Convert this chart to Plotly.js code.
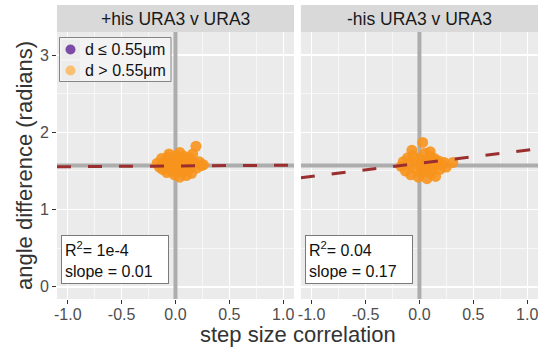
<!DOCTYPE html>
<html>
<head>
<meta charset="utf-8">
<script src="https://cdn.plot.ly/plotly-3.0.1.min.js"></script>
<style>html,body{margin:0;padding:0;background:#fff;}#chart{width:542px;height:353px;}</style>
</head>
<body>
<div id="chart"></div>
<script>
// ---- data ----
const facetTitles = ["+his URA3 v URA3", "-his URA3 v URA3"];
const xTickVals = [-1, -0.5, 0, 0.5, 1];
const xTickText = ["-1.0", "-0.5", "0.0", "0.5", "1.0"];
const yTickVals = [0, 1, 2, 3];
const yTickText = ["0", "1", "2", "3"];
const legendLabels = ["d \u2264 0.55\u03bcm", "d > 0.55\u03bcm"];
const legendColors = ["#7b4ba6", "#f9bf73"];

// panel 1 (+his) step size correlation / angle difference
const x1 = [-0.17,-0.15,-0.13,-0.12,-0.10,-0.08,-0.07,-0.05,-0.04,-0.02,-0.01,0.00,0.01,0.02,0.03,0.04,0.05,0.06,0.07,0.08,0.09,0.10,0.11,0.12,0.13,0.14,0.15,0.16,0.17,0.19,0.20,0.22,0.24,0.26,-0.06,0.04,-0.11];
const y1 = [1.60,1.55,1.66,1.52,1.62,1.48,1.68,1.57,1.50,1.64,1.45,1.58,1.70,1.53,1.61,1.42,1.66,1.55,1.49,1.69,1.59,1.44,1.63,1.52,1.67,1.56,1.47,1.72,1.60,1.82,1.54,1.62,1.57,1.58,1.72,1.74,1.58];
// panel 2 (-his)
const x2 = [-0.17,-0.15,-0.13,-0.11,-0.09,-0.08,-0.06,-0.04,-0.03,-0.01,0.00,0.01,0.02,0.03,0.04,0.05,0.06,0.07,0.08,0.09,0.10,0.11,0.12,0.13,0.14,0.15,0.16,0.18,0.19,0.21,0.23,0.25,0.31,-0.07,0.10];
const y2 = [1.56,1.62,1.50,1.67,1.58,1.45,1.70,1.53,1.62,1.42,1.66,1.56,1.48,1.87,1.60,1.73,1.51,1.40,1.64,1.57,1.69,1.47,1.60,1.54,1.66,1.43,1.59,1.63,1.52,1.58,1.61,1.55,1.61,1.77,1.75];

// fitted regressions
const fitIntercept = [1.565, 1.600];
const fitSlope = [0.01, 0.17];
const r2Text = ["1e-4", "0.04"];
const slopeText = ["0.01", "0.17"];
const refX = 0;
const refY = Math.PI / 2;

// ---- build ----
const W = 542, H = 353;
const M = {l: 57, r: 4, t: 32, b: 54};
const PW = W - M.l - M.r, PH = H - M.t - M.b;
const px2x = px => (px - M.l) / PW;
const px2y = py => 1 - (py - M.t) / PH;

const XR = [-1.1, 1.1];
const YR = [-0.157, 3.299];
const orange = "rgba(247,148,29,0.9)";
const fitColor = "#9b2f2f";
const refColor = "#adadad";

function fitLine(i) {
  return XR.map(x => fitIntercept[i] + fitSlope[i] * x);
}

const traces = [];
[["x", "y"], ["x2", "y2"]].forEach(([xa, ya]) => {
  traces.push({x: [refX, refX], y: YR, xaxis: xa, yaxis: ya, type: "scatter", mode: "lines",
    line: {color: refColor, width: 4}, showlegend: false, hoverinfo: "skip"});
  traces.push({x: XR, y: [refY, refY], xaxis: xa, yaxis: ya, type: "scatter", mode: "lines",
    line: {color: refColor, width: 4}, showlegend: false, hoverinfo: "skip"});
});
traces.push(
  {x: x1, y: y1, xaxis: "x", yaxis: "y", type: "scatter", mode: "markers",
   marker: {color: orange, size: 11}, showlegend: false, hoverinfo: "skip"},
  {x: x2, y: y2, xaxis: "x2", yaxis: "y2", type: "scatter", mode: "markers",
   marker: {color: orange, size: 11}, showlegend: false, hoverinfo: "skip"},
  {x: XR, y: fitLine(0), xaxis: "x", yaxis: "y", type: "scatter", mode: "lines",
   line: {color: fitColor, width: 3, dash: "14px,17px"}, showlegend: false},
  {x: XR, y: fitLine(1), xaxis: "x2", yaxis: "y2", type: "scatter", mode: "lines",
   line: {color: fitColor, width: 3, dash: "14px,17px"}, showlegend: false}
);

const font = "Liberation Sans, Arial, sans-serif";
function xax(dom, anchor) {
  return {domain: dom, anchor: anchor, range: XR, tickvals: xTickVals, ticktext: xTickText,
    showgrid: true, gridcolor: "#ffffff", gridwidth: 1.4, zeroline: false,
    ticks: "outside", ticklen: 4, tickwidth: 1, tickcolor: "#333333", ticklabelstandoff: -3,
    tickfont: {family: font, size: 16, color: "#4d4d4d"},
    minor: {dtick: 0.25, tick0: 0, showgrid: true, gridcolor: "#ffffff", gridwidth: 0.6},
    showline: false, fixedrange: true};
}
function yax(dom, anchor, labels) {
  return {domain: dom, anchor: anchor, range: YR, tickvals: yTickVals, ticktext: yTickText,
    showgrid: true, gridcolor: "#ffffff", gridwidth: 1.4, zeroline: false,
    ticks: labels ? "outside" : "", ticklen: 4, tickwidth: 1, tickcolor: "#333333",
    showticklabels: labels,
    tickfont: {family: font, size: 16, color: "#4d4d4d"},
    minor: {dtick: 0.5, tick0: 0, showgrid: true, gridcolor: "#ffffff", gridwidth: 0.6},
    showline: false, fixedrange: true};
}

const d1 = [0, 0.4927];
const d2 = [0.507, 1];

const shapes = [];
[d1, d2].forEach(d => {
  shapes.push({type: "rect", xref: "paper", yref: "paper", x0: d[0], x1: d[1], y0: 1.0, y1: 1.101,
    fillcolor: "#d9d9d9", line: {width: 0}, layer: "below"});
});

const annotations = [];
// manual legend (inside panel 1, top-left)
shapes.push({type: "rect", xref: "paper", yref: "paper", x0: px2x(59.5), x1: px2x(171), y0: px2y(81.5), y1: px2y(37.5),
  fillcolor: "#f3f3f3", line: {color: "#858585", width: 1}, layer: "above"});
legendLabels.forEach((lab, i) => {
  const cy = 49.5 + i * 21;
  shapes.push({type: "rect", xref: "paper", yref: "paper", x0: px2x(61.5), x1: px2x(80),
    y0: px2y(cy + 9.5), y1: px2y(cy - 9.5), fillcolor: "#ececec", line: {width: 0}, layer: "above"});
  shapes.push({type: "circle", xref: "paper", yref: "paper", x0: px2x(65.5), x1: px2x(75.5),
    y0: px2y(cy + 5), y1: px2y(cy - 5), fillcolor: legendColors[i], line: {width: 0}, layer: "above"});
  annotations.push({xref: "paper", yref: "paper", x: px2x(82.5), y: px2y(cy), xanchor: "left", yanchor: "middle",
    showarrow: false, text: lab, font: {family: font, size: 16, color: "#111111"}});
});

[d1, d2].forEach((d, i) => {
  annotations.push({xref: "paper", yref: "paper", x: (d[0] + d[1]) / 2, y: 1.05, text: facetTitles[i],
    showarrow: false, xanchor: "center", yanchor: "middle",
    font: {family: font, size: 17.5, color: "#1a1a1a"}});
  annotations.push({xref: "paper", yref: "paper",
    x: d[0] + 0.018 * (d[1] - d[0]), y: 0.058, xanchor: "left", yanchor: "bottom", align: "left", showarrow: false,
    text: "R<sup>2</sup>= " + r2Text[i] + "<br>slope = " + slopeText[i],
    font: {family: font, size: 16, color: "#111111"},
    bgcolor: "#ffffff", bordercolor: "#7a7a7a", borderwidth: 1, borderpad: 3, width: 100});
});
annotations.push({xref: "paper", yref: "paper", x: 0.5, y: 0, yshift: -21, text: "step size correlation",
  showarrow: false, xanchor: "center", yanchor: "top", font: {family: font, size: 22, color: "#333333"}});
annotations.push({xref: "paper", yref: "paper", x: 0, xshift: -18, y: 0.5, text: "angle difference (radians)",
  textangle: -90, showarrow: false, xanchor: "right", yanchor: "middle", font: {family: font, size: 22, color: "#333333"}});

const layout = {
  width: W, height: H,
  margin: M,
  paper_bgcolor: "#ffffff", plot_bgcolor: "#ebebeb",
  font: {family: font},
  xaxis: xax(d1, "y"), yaxis: yax([0, 1], "x", true),
  xaxis2: xax(d2, "y2"), yaxis2: yax([0, 1], "x2", false),
  showlegend: false,
  shapes: shapes,
  annotations: annotations
};

Plotly.newPlot("chart", traces, layout, {staticPlot: true, displayModeBar: false});
</script>
</body>
</html>
